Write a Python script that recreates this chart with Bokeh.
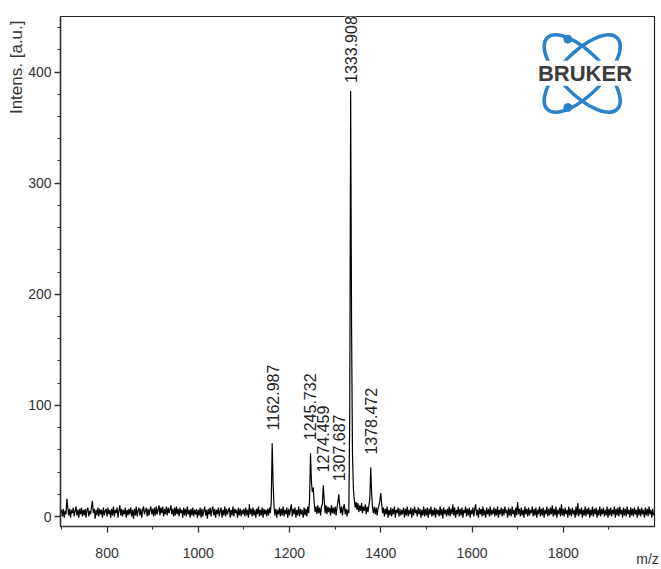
from bokeh.plotting import figure
from bokeh.models import (ColumnDataSource, LabelSet, Label, FixedTicker, Range1d,
                          Title, LinearAxis)
from bokeh.core.properties import value
from bokeh.embed import file_html
from bokeh.resources import INLINE

# ---------------- data ----------------
mz_start = 700
mz_step = 2
intensity = [
    6, 0, 7, -1, 5, 2, 16, 8, 1, 7, -1, 6, 3, 8, 0, 5, 9, 1, 6, -1, 7, 2, 8, 0, 6,
    1, 7, -1, 6, 8, 0, 5, 2, 9, 14, 3, 7, -2, 6, 1, 8, 0, 7, 2, 6, -1, 8, 1, 5, 7,
    0, 8, 2, 6, -1, 7, 1, 9, 0, 6, 3, 8, -1, 5, 10, 1, 7, 0, 6, 2, 8, -1, 6, 1, 7,
    2, 8, 0, 6, -2, 7, 1, 9, 0, 5, 8, 1, 7, -1, 6, 9, 2, 5, 8, 0, 7, 1, 6, 9, 2,
    7, 0, 8, 1, 9, 2, 6, 10, 1, 8, 3, 9, 0, 7, 2, 9, 1, 8, 3, 6, 10, 2, 7, 0, 8,
    1, 9, 2, 7, 0, 8, 3, 6, -1, 8, 1, 7, 0, 9, 2, 6, -1, 7, 1, 8, 0, 6, 2, 7, -1,
    6, 1, 8, -1, 7, 0, 5, 9, 1, 6, -2, 7, 2, 8, 0, 6, 9, 1, 7, -1, 6, 2, 8, 0, 5,
    8, -1, 6, 1, 9, 0, 7, 2, 5, 8, -1, 6, 1, 9, 0, 7, 3, 6, -1, 8, 1, 7, 0, 6, 2,
    7, 0, 8, 1, 6, -1, 11, 2, 7, 0, 8, 1, 6, -1, 7, 2, 9, 0, 6, 1, 8, -1, 7, 2, 6,
    0, 7, 1, 8, 3, 14, 66, 30, 9, 1, 7, -1, 6, 2, 8, 0, 7, 1, 9, 0, 6, 2, 8, -1, 7,
    1, 6, 11, 0, 7, 2, 8, -1, 6, 1, 9, 0, 7, 2, 6, -1, 8, 1, 7, 0, 9, 3, 16, 57, 31,
    22, 26, 13, 4, 9, 2, 10, 3, 8, 1, 9, 11, 28, 15, 3, 10, 2, 9, 4, 8, 1, 10, 3, 8, 2,
    9, 1, 8, 13, 20, 10, 3, 9, 1, 8, 11, 2, 7, 0, 6, 3, 92, 383, 170, 56, 25, 15, 8, 13, 6,
    12, 4, 10, 5, 12, 3, 9, 5, 11, 2, 9, 4, 10, 16, 44, 21, 7, 3, 9, 2, 8, 1, 7, 10, 14,
    21, 11, 3, 8, 0, 7, 2, 9, -1, 6, 1, 8, 0, 7, 2, 9, -1, 6, 3, 8, 0, 7, 1, 6, 2,
    8, -1, 7, 1, 9, 0, 6, 2, 8, -1, 7, 1, 9, 3, 6, 0, 8, 2, 7, -1, 6, 1, 9, 0, 7,
    1, 8, -1, 7, 2, 9, 0, 6, 1, 8, -1, 7, 2, 6, 0, 9, 1, 7, -2, 8, 2, 6, 0, 7, 1,
    9, 0, 7, 2, 11, 1, 8, -1, 6, 2, 9, 0, 7, 1, 8, -1, 6, 3, 9, 0, 7, 1, 8, -1, 6,
    2, 8, 0, 7, 11, 1, 6, -1, 8, 2, 7, 0, 9, 1, 6, -1, 8, 2, 7, 0, 9, 1, 6, 2, 8,
    0, 7, 1, 9, -1, 6, 2, 8, 0, 7, 1, 9, 3, 6, -1, 8, 1, 7, 0, 9, 2, 6, -1, 8, 1,
    13, 2, 7, 0, 8, 1, 6, -1, 9, 2, 7, 0, 8, 1, 6, 3, 9, 0, 7, 1, 8, -1, 6, 2, 9,
    0, 7, 1, 8, -1, 6, 2, 9, 0, 7, 1, 8, 2, 10, 0, 7, 1, 9, -1, 6, 2, 8, 0, 11, 1,
    7, 0, 8, 2, 6, -1, 9, 1, 7, 0, 8, 2, 6, -1, 9, 1, 12, 0, 7, 2, 8, -1, 6, 1, 9,
    0, 7, 2, 8, -1, 6, 1, 9, 0, 7, 2, 8, -1, 6, 1, 9, 0, 7, 2, 8, 0, 6, 1, 9, -1,
    7, 1, 8, 0, 6, 2, 9, -1, 7, 1, 8, 0, 9, 2, 6, -1, 8, 1, 7, 0, 9, 2, 6, -1, 8,
    1, 7, 0, 8, 2, 6, -1, 9, 1, 7, 0, 8, 2, 6, -1, 8, 1, 7, 0, 9, 2, 6, -1, 7, 1,
]
mz = [mz_start + mz_step * i for i in range(len(intensity))]

peak_mz = [1162.987, 1245.732, 1274.459, 1307.687, 1333.908, 1378.472]
peak_int = [66, 57, 28, 20, 383, 44]
peak_text = ["1162.987", "1245.732", "1274.459", "1307.687", "1333.908", "1378.472"]

x_major = [800, 1000, 1200, 1400, 1600, 1800]
x_minor = [700, 900, 1100, 1300, 1500, 1700, 1900]
y_major = [0, 100, 200, 300, 400]
y_minor = [20, 40, 60, 80, 120, 140, 160, 180, 220, 240, 260, 280, 320, 340, 360, 380, 420, 440]

x_title = "m/z"
y_title = "Intens. [a.u.]"

# ---------------- layout ----------------
W, H = 661, 569
FL, FR, FT, FB = 60, 654, 16, 526
X0, X1 = 698, 2000
Y0, Y1 = -9, 450
FONT = "Liberation Sans"
AX = "#333333"
BLUE = "#2b82c9"


def sx(px):
    return X0 + (px - FL) * (X1 - X0) / (FR - FL)


def sy(py):
    return Y1 - (py - FT) * (Y1 - Y0) / (FB - FT)


p = figure(width=W, height=H, output_backend="svg", toolbar_location=None,
           x_range=Range1d(X0, X1), y_range=Range1d(Y0, Y1),
           min_border_left=FL, min_border_right=W - FR,
           min_border_top=FT, min_border_bottom=H - FB)
p.background_fill_color = "white"
p.border_fill_color = "white"
p.outline_line_color = "#222222"
p.outline_line_width = 1.2
p.grid.visible = False

p.xaxis.ticker = FixedTicker(ticks=x_major, minor_ticks=x_minor)
p.yaxis.ticker = FixedTicker(ticks=y_major, minor_ticks=y_minor)
for ax in (p.xaxis, p.yaxis):
    ax.axis_line_color = AX
    ax.axis_line_width = 1.5
    ax.major_tick_line_color = AX
    ax.major_tick_line_width = 1.3
    ax.minor_tick_line_color = AX
    ax.minor_tick_line_width = 1.1
    ax.major_tick_out = 6
    ax.major_tick_in = 0
    ax.minor_tick_out = 3
    ax.minor_tick_in = 0
    ax.major_label_text_font = FONT
    ax.major_label_text_font_size = "14px"
    ax.major_label_text_color = AX
p.xaxis.major_label_standoff = 15
p.yaxis.major_label_standoff = 3

# y title: top of the left side
p.add_layout(Title(text=y_title, align="right", text_font=FONT,
                   text_font_size="17px", text_font_style="normal",
                   text_color=AX, standoff=0, offset=4), "left")

# x title: a label-only axis that tucks "m/z" under the right end of the x axis
x_title_pos = sx(647)
title_axis = LinearAxis(ticker=FixedTicker(ticks=[x_title_pos], minor_ticks=[]),
                        major_label_overrides={x_title_pos: x_title},
                        axis_line_color=None, major_tick_line_color=None,
                        minor_tick_line_color=None, major_tick_out=0, major_tick_in=0,
                        minor_tick_out=0, minor_tick_in=0,
                        major_label_standoff=-10,
                        major_label_text_font=FONT, major_label_text_font_size="14px",
                        major_label_text_color=AX)
p.add_layout(title_axis, "below")

# spectrum
src = ColumnDataSource(dict(mz=mz, inten=intensity))
p.line("mz", "inten", source=src, line_color="black", line_width=1.2)

# peak labels (the tallest peak's label sits a little closer to its peak)
imax = peak_int.index(max(peak_int))
small = [i for i in range(len(peak_mz)) if i != imax]
lsrc = ColumnDataSource(dict(mz=[peak_mz[i] for i in small],
                             inten=[peak_int[i] for i in small],
                             label=[peak_text[i] for i in small]))
lbl_style = dict(angle=90, angle_units="deg", text_align="left",
                 text_baseline="middle", text_color="#222222",
                 background_fill_color="white", level="overlay")
p.add_layout(LabelSet(x="mz", y="inten", text="label", source=lsrc, y_offset=13,
                      text_font=value(FONT), text_font_size=value("16px"), **lbl_style))
p.add_layout(Label(x=peak_mz[imax], y=peak_int[imax], text=peak_text[imax], y_offset=8,
                   text_font=FONT, text_font_size="16px", **lbl_style))

# Bruker logo
cx, cy = sx(581.7), sy(73)
p.ellipse(x=[cx, cx], y=[cy, cy], width=[100, 100], height=[42, 42],
          angle=[0.80, -0.80], width_units="screen", height_units="screen",
          fill_alpha=0, line_color=BLUE, line_width=3.5)
p.scatter(x=[sx(567.3), sx(567.3)], y=[sy(38.7), sy(107)], size=8,
          color=BLUE)
p.add_layout(Label(x=sx(584.5), y=sy(72.7), text="BRUKER", text_align="center",
                   text_baseline="middle", text_font=FONT, text_font_style="bold",
                   text_font_size="22px", text_color="#3c3c3c",
                   background_fill_color="white"))

open("out.html", "w").write(file_html(p, INLINE))
